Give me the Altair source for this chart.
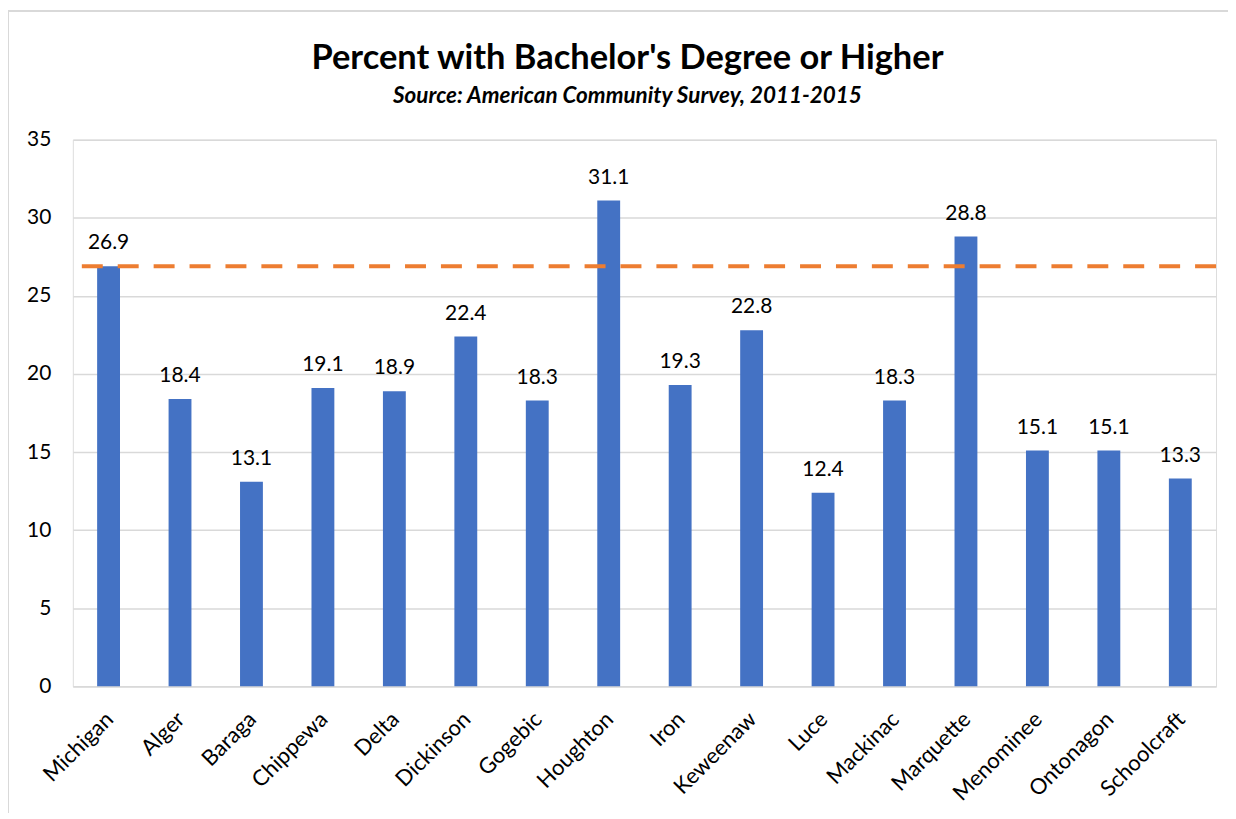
import altair as alt
import pandas as pd

counties = ["Michigan", "Alger", "Baraga", "Chippewa", "Delta", "Dickinson", "Gogebic",
            "Houghton", "Iron", "Keweenaw", "Luce", "Mackinac", "Marquette", "Menominee",
            "Ontonagon", "Schoolcraft"]
pct = [26.9, 18.4, 13.1, 19.1, 18.9, 22.4, 18.3, 31.1, 19.3, 22.8, 12.4, 18.3, 28.8, 15.1, 15.1, 13.3]
state_avg = 26.9
title_text = "Percent with Bachelor's Degree or Higher"
subtitle_text = "Source: American Community Survey, 2011-2015"

df = pd.DataFrame({"county": counties, "pct": pct})
FONT = "Lato"

W, H = 1146, 548

x = alt.X("county:N", sort=counties, title=None,
          scale=alt.Scale(paddingInner=0.68, paddingOuter=0.34),
          axis=alt.Axis(labelAngle=-45, labelFontSize=22, labelFont=FONT, labelColor="#000000",
                        ticks=False, domainColor="#D9D9D9", domainWidth=1.5, labelPadding=22,
                        labelOffset=-6))
y = alt.Y("pct:Q", title=None,
          scale=alt.Scale(domain=[0, 35], nice=False),
          axis=alt.Axis(values=[0, 5, 10, 15, 20, 25, 30, 35], labelFontSize=21, labelFont=FONT,
                        labelColor="#000000", ticks=False, domain=False, gridColor="#D9D9D9",
                        gridWidth=1.5, labelPadding=22))

bars = alt.Chart(df).mark_bar(color="#4472C4").encode(x=x, y=y)
labels = alt.Chart(df).mark_text(baseline="bottom", dy=-13, fontSize=21, font=FONT,
                                 color="#000000").encode(x=x, y=y, text=alt.Text("pct:Q", format=".1f"))
avg = alt.Chart(pd.DataFrame({"avg": [state_avg]})).mark_rule(
    color="#ED7D31", strokeWidth=4, strokeDash=[21, 15]).encode(y="avg:Q")

one = pd.DataFrame({"a": [0]})
frame_left = alt.Chart(one).mark_rule(color="#D9D9D9", strokeWidth=2).encode(
    x=alt.value(-65), y=alt.value(-129), y2=alt.value(H + 140))
frame_top = alt.Chart(one).mark_rule(color="#D9D9D9", strokeWidth=2).encode(
    x=alt.value(-65), x2=alt.value(W + 30), y=alt.value(-129))

title = alt.Chart(pd.DataFrame({"t": [title_text]})).mark_text(
    font=FONT, fontSize=34.5, fontWeight="bold", color="#000000", align="center",
    baseline="alphabetic").encode(x=alt.value(556), y=alt.value(-71), text="t:N")
subtitle = alt.Chart(pd.DataFrame({"t": [subtitle_text]})).mark_text(
    font=FONT, fontSize=22.5, fontWeight="bold", fontStyle="italic", color="#000000",
    align="center", baseline="alphabetic").encode(x=alt.value(556), y=alt.value(-37), text="t:N")

chart = alt.layer(frame_left, frame_top, title, subtitle, bars, avg, labels).properties(
    width=W, height=H,
    autosize=alt.AutoSizeParams(type="none"),
    padding={"left": 65, "top": 131, "right": 12, "bottom": 126},
).configure_view(stroke=None).configure(background="#FFFFFF")

chart.save("out.html", embed_options={"renderer": "svg", "actions": False})
